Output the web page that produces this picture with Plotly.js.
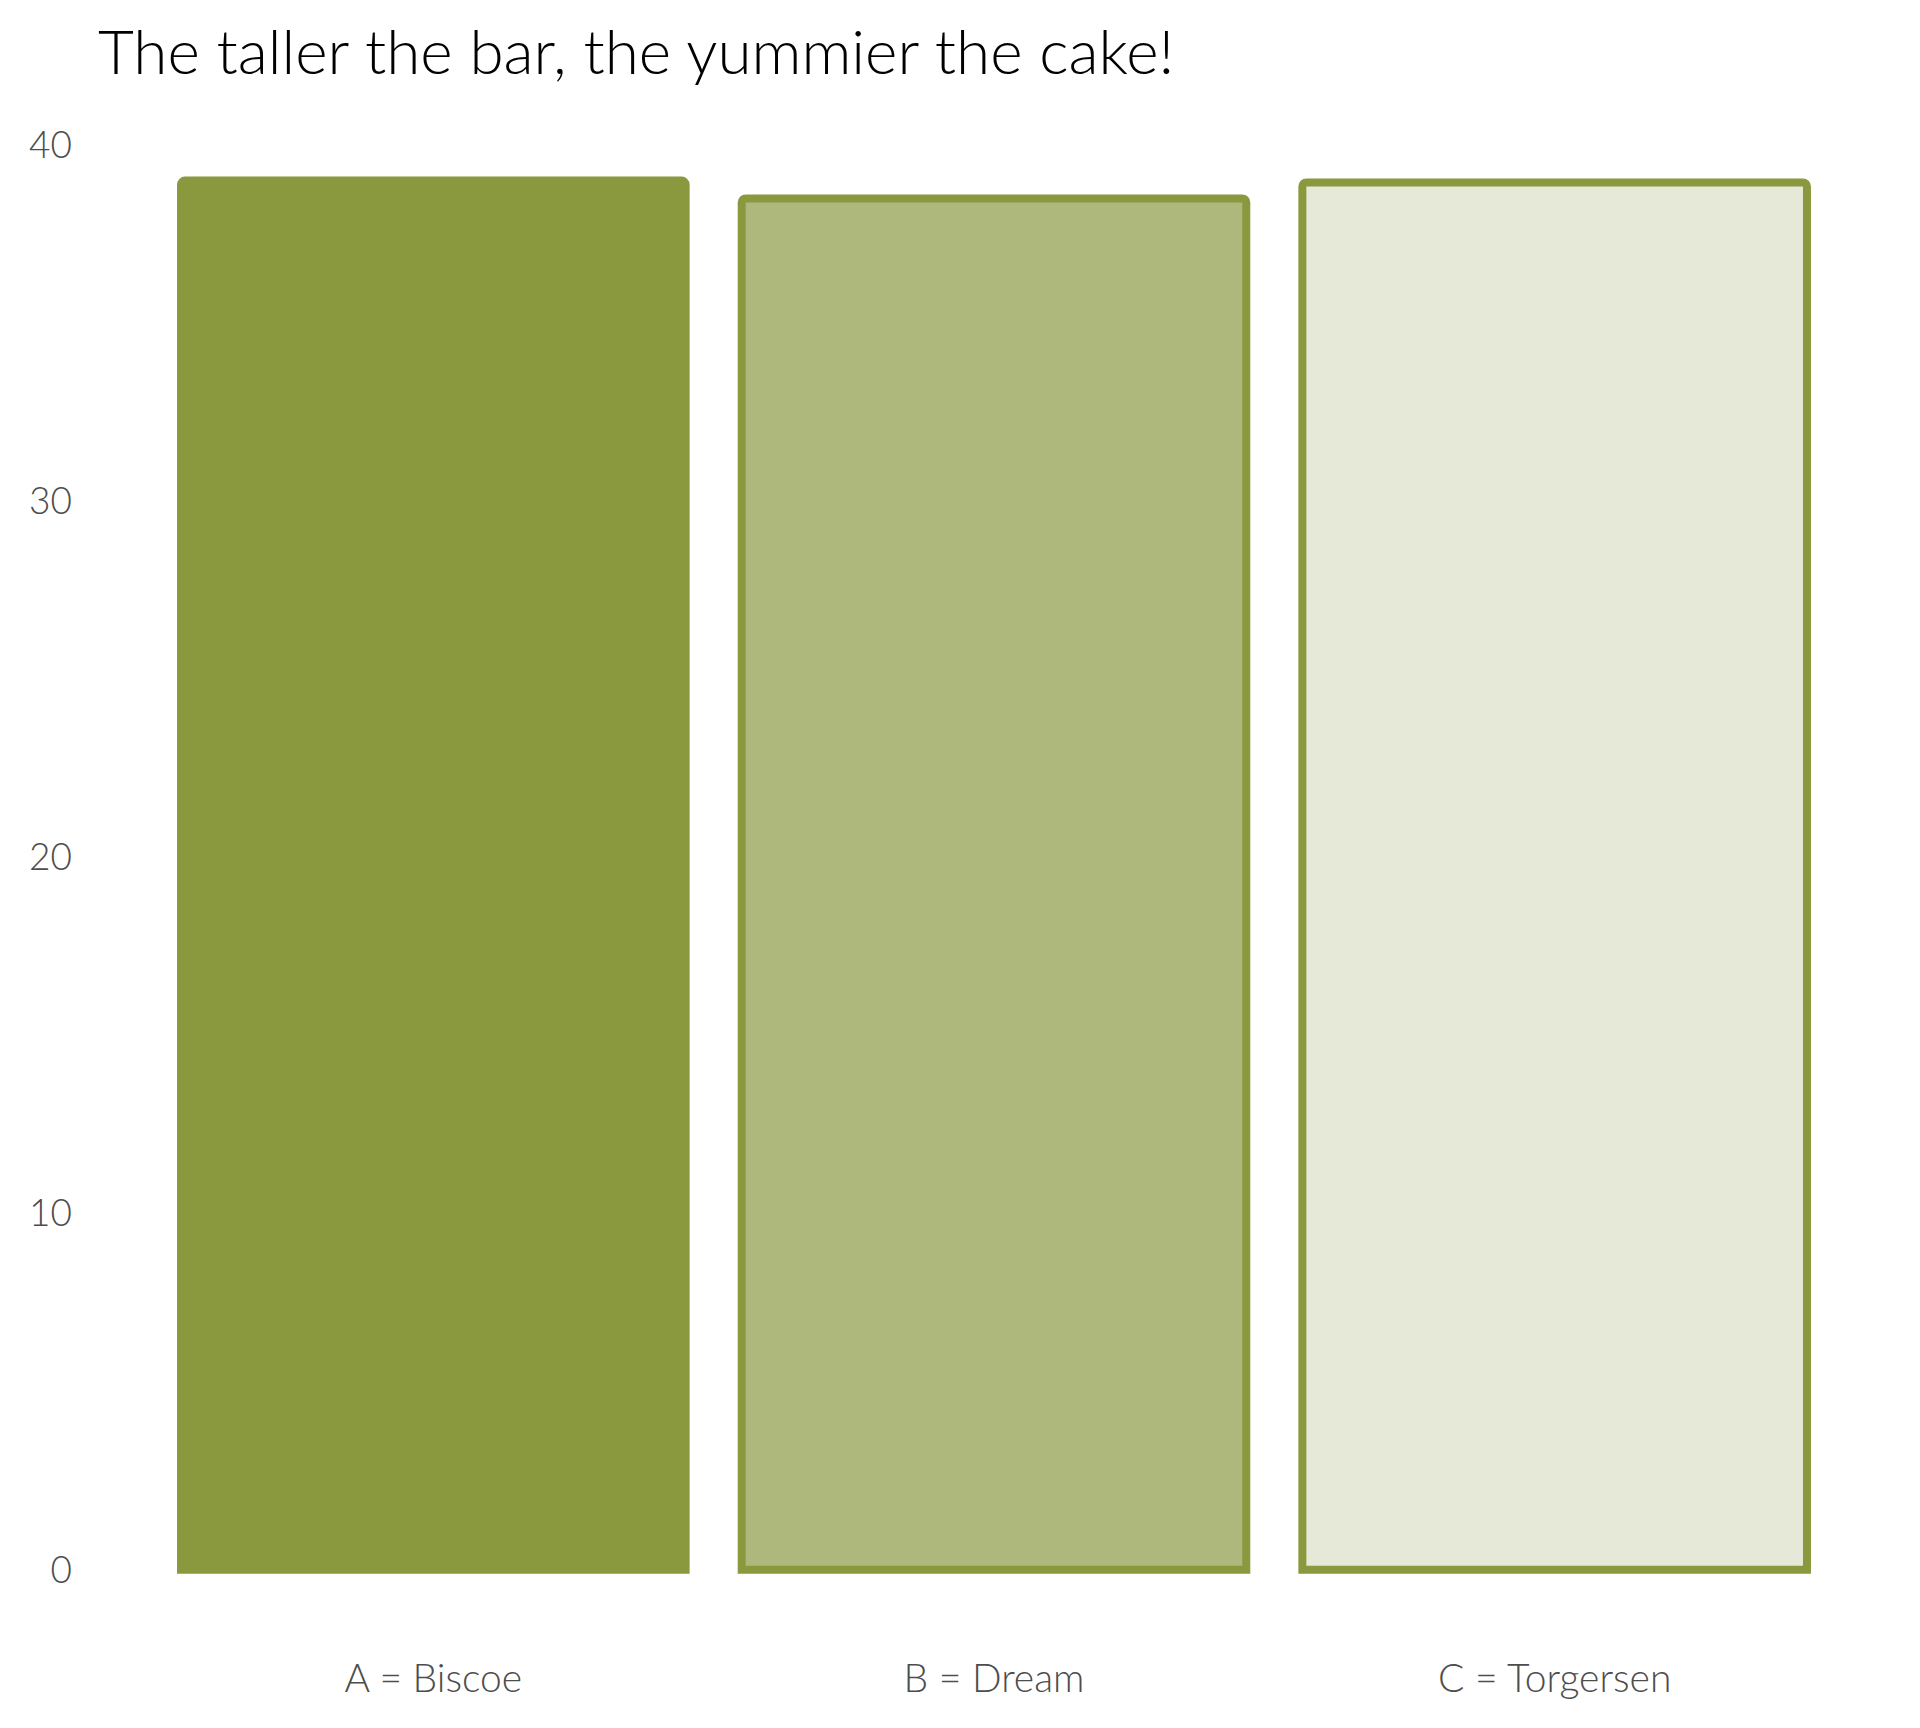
<!DOCTYPE html>
<html>
<head>
<meta charset="utf-8">
<script src="https://cdn.plot.ly/plotly-3.0.1.min.js"></script>
<style>html,body{margin:0;padding:0;background:#fff;}#chart{width:1920px;height:1728px;}</style>
</head>
<body>
<div id="chart"></div>
<script>
const categories = ["A = Biscoe", "B = Dream", "C = Torgersen"];
const values = [39.0, 38.5, 38.95];
const titleText = "The taller the bar, the yummier the cake!";
const yTicks = [0, 10, 20, 30, 40];

const fillColors = ["#8A993E", "#AFB87C", "#E6E9D8"];
const lineColor = "#8A993E";
const FONT = "Lato, 'Open Sans', sans-serif";

const trace = {
  type: "bar",
  x: categories,
  y: values,
  width: 0.9,
  marker: {
    color: fillColors,
    line: {color: lineColor, width: 8},
    cornerradius: 4
  },
  hoverinfo: "skip"
};

const layout = {
  width: 1920,
  height: 1728,
  paper_bgcolor: "#ffffff",
  plot_bgcolor: "#ffffff",
  margin: {l: 153, r: 85, t: 145, b: 153},
  showlegend: false,
  title: {
    text: titleText,
    font: {family: FONT, size: 62, color: "#000000", weight: 300},
    xref: "container", yref: "container",
    x: 0.051, xanchor: "left",
    y: 1 - 52/1728, yanchor: "middle"
  },
  xaxis: {
    type: "category",
    range: [-0.5, 2.5],
    showgrid: false, zeroline: false, showline: false,
    ticks: "",
    ticklabelstandoff: 77,
    tickfont: {family: FONT, size: 39, color: "#4D4D4D", weight: 300}
  },
  yaxis: {
    range: [-0.15, 40],
    tickvals: yTicks,
    ticktext: yTicks.map(String),
    showgrid: false, zeroline: false, showline: false,
    ticks: "",
    ticklabelstandoff: 80,
    tickfont: {family: FONT, size: 37, color: "#4D4D4D", weight: 300}
  }
};

Plotly.newPlot("chart", [trace], layout, {displayModeBar: false, staticPlot: true});
</script>
</body>
</html>
